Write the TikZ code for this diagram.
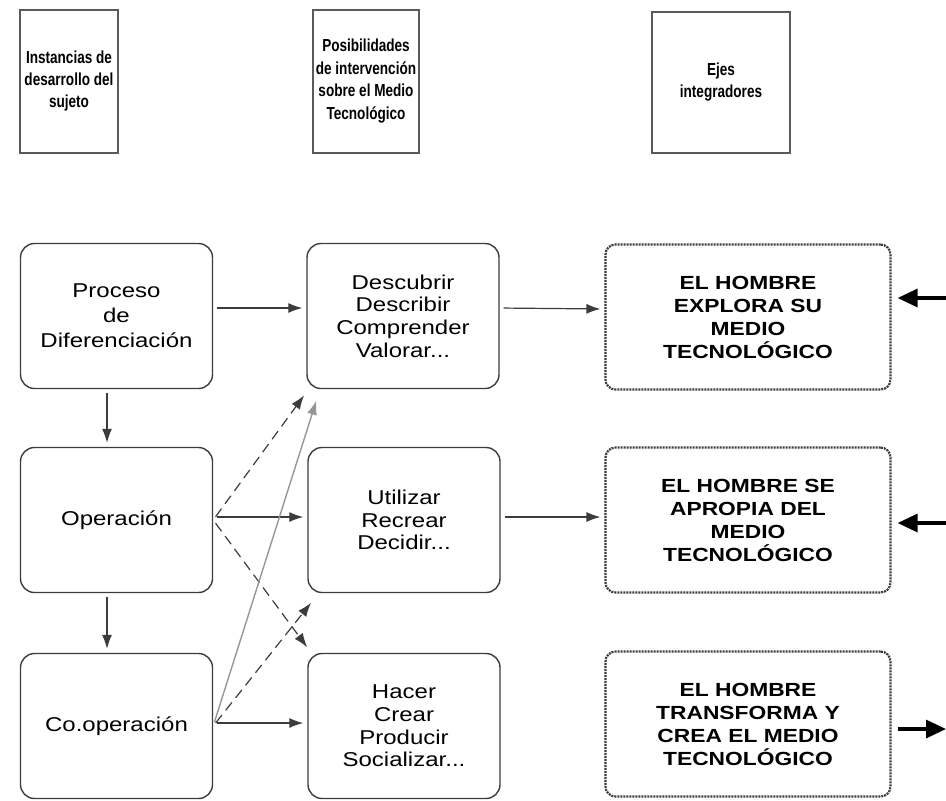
\documentclass[tikz,border=0pt]{standalone}
\usepackage{fontspec}
\setmainfont{Liberation Sans}[FakeStretch=1.2]
\newfontfamily\headfont{Liberation Sans}[FakeStretch=0.78]
\usetikzlibrary{arrows.meta}
\definecolor{linea}{RGB}{60,60,60}
\definecolor{gris}{RGB}{150,150,150}
\newcommand{\drawflecha}{\draw[linea,line width=0.6pt,-{Latex[length=7pt,width=5pt]},shorten <=2pt,shorten >=2pt]}
\newcommand{\drawpunteada}{\draw[linea,line width=0.6pt,dash pattern=on 5pt off 3pt,-{Latex[length=7pt,width=5pt]},shorten <=2pt,shorten >=1pt]}
\newcommand{\drawgruesa}{\draw[black,line width=1.6pt,-{Triangle[length=10pt,width=9pt]}]}
\tikzset{
  cabecera/.style={draw=gris!60!black,line width=1pt,align=center,inner sep=0pt,
    font=\headfont\bfseries\fontsize{8.7}{11.2}\selectfont},
  caja/.style={draw=linea,line width=0.7pt,rounded corners=7pt,align=center,inner sep=0pt,
    minimum width=96pt,minimum height=72.5pt},
  eje/.style={draw=linea,line width=1.1pt,dash pattern=on 1pt off 0.5pt,rounded corners=5pt,
    align=center,inner sep=0pt,minimum width=142.5pt,minimum height=72.5pt,
    font=\bfseries\fontsize{9.5}{11.5}\selectfont}
}

\begin{document}
\begin{tikzpicture}[x=0.5pt,y=-0.5pt]
\useasboundingbox (0,0) rectangle (946,800);
\node[cabecera,minimum width=49pt,minimum height=71.5pt] (inst) at (69,81) {Instancias de\\desarrollo del\\sujeto};
\node[cabecera,minimum width=53pt,minimum height=71.5pt] (posib) at (366,81) {Posibilidades\\de intervención\\sobre el Medio\\Tecnológico};
\node[cabecera,minimum width=69pt,minimum height=70.5pt] (ejes) at (721,82) {Ejes\\integradores};

\node[caja,font=\fontsize{10}{12.5}\selectfont] (proc) at (116.5,316) {Proceso\\de\\Diferenciación};
\node[caja,font=\fontsize{10}{12.5}\selectfont] (oper) at (116.5,520) {Operación};
\node[caja,font=\fontsize{10}{12.5}\selectfont] (coop) at (116.5,726) {Co.operación};

\node[caja,font=\fontsize{10}{11.3}\selectfont] (descu) at (403,316) {Descubrir\\Describir\\Comprender\\Valorar...};
\node[caja,font=\fontsize{10}{11.3}\selectfont] (utili) at (404,520) {Utilizar\\Recrear\\Decidir...};
\node[caja,font=\fontsize{10}{11.3}\selectfont] (hacer) at (404,726) {Hacer\\Crear\\Producir\\Socializar...};

\node[eje] (explo) at (748,317) {EL HOMBRE\\EXPLORA SU\\MEDIO\\TECNOLÓGICO};
\node[eje] (aprop) at (748,520) {EL HOMBRE SE\\APROPIA DEL\\MEDIO\\TECNOLÓGICO};
\node[eje] (trans) at (748,724) {EL HOMBRE\\TRANSFORMA Y\\CREA EL MEDIO\\TECNOLÓGICO};

\drawflecha ([yshift=4pt]proc.east) -- ([yshift=4pt]descu.west);
\drawflecha ([yshift=4pt]descu.east) -- ([yshift=4pt]explo.west);
\drawflecha ([yshift=1.5pt]oper.east) -- ([yshift=1.5pt]utili.west);
\drawflecha ([yshift=1.5pt]utili.east) -- ([yshift=1.5pt]aprop.west);
\drawflecha ([yshift=1.5pt]coop.east) -- ([yshift=1.5pt]hacer.west);
\drawflecha ([xshift=-4.75pt]proc.south) -- ([xshift=-4.75pt]oper.north);
\drawflecha ([xshift=-4.75pt]oper.south) -- ([xshift=-4.75pt]coop.north);

\drawpunteada (oper.east) -- ([xshift=-0.5pt,yshift=-2.25pt]descu.south west);
\drawpunteada (oper.east) -- ([xshift=0.5pt,yshift=2pt]hacer.north west);
\drawpunteada (coop.east) -- ([xshift=2.5pt,yshift=-4pt]utili.south west);
\draw[gris,line width=0.7pt,-{Latex[length=7pt,width=5pt]},shorten <=2pt] (coop.east) -- ([xshift=5pt,yshift=-5.75pt]descu.south west);

\coordinate (entA) at (946,298);
\coordinate (entB) at (946,523);
\coordinate (salC) at (946,729);
\drawgruesa[shorten >=3pt] (entA) -- (explo.east |- entA);
\drawgruesa[shorten >=3pt] (entB) -- (aprop.east |- entB);
\drawgruesa[shorten <=3pt] (trans.east |- salC) -- (salC);
\end{tikzpicture}
\end{document}
